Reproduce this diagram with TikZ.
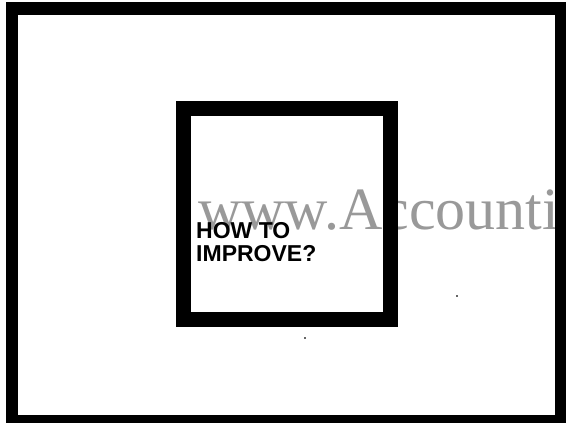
\documentclass[tikz,border=0pt]{standalone}
\usepackage{fontspec}
\setmainfont{Liberation Serif}
\newfontfamily\arialfont{Liberation Sans}
\tikzset{
  label/.style={inner sep=0pt, align=left, font=\arialfont\bfseries\fontsize{23}{23}\selectfont},
  speck/.style={rectangle, fill=black!60, inner sep=0pt, minimum width=2pt, minimum height=2pt},
}
\begin{document}
\begin{tikzpicture}[x=1pt,y=-1pt]
\clip (0,0) rectangle (566,423);
\fill[white] (0,0) rectangle (566,423);
% watermark
\node (wm) [anchor=base west, inner sep=0pt, text=black!40, font=\fontsize{60}{60}\selectfont] at (198,229) {www.Accounti};
% outer frame
\draw[line width=12.5pt] (12,8.5) rectangle (561,421);
\coordinate (outer) at (286.5,214.75);
% inner square
\draw[line width=15pt] (183.5,108.5) rectangle (390.5,319.5);
\coordinate (inner) at (287,214);
% text
\node (txt) [label, anchor=base west] at (196,261.5) {HOW TO\\IMPROVE?};
% specks
\node (s1) [speck] at (305,338) {};
\node (s2) [speck] at (457,296) {};
\end{tikzpicture}
\end{document}
